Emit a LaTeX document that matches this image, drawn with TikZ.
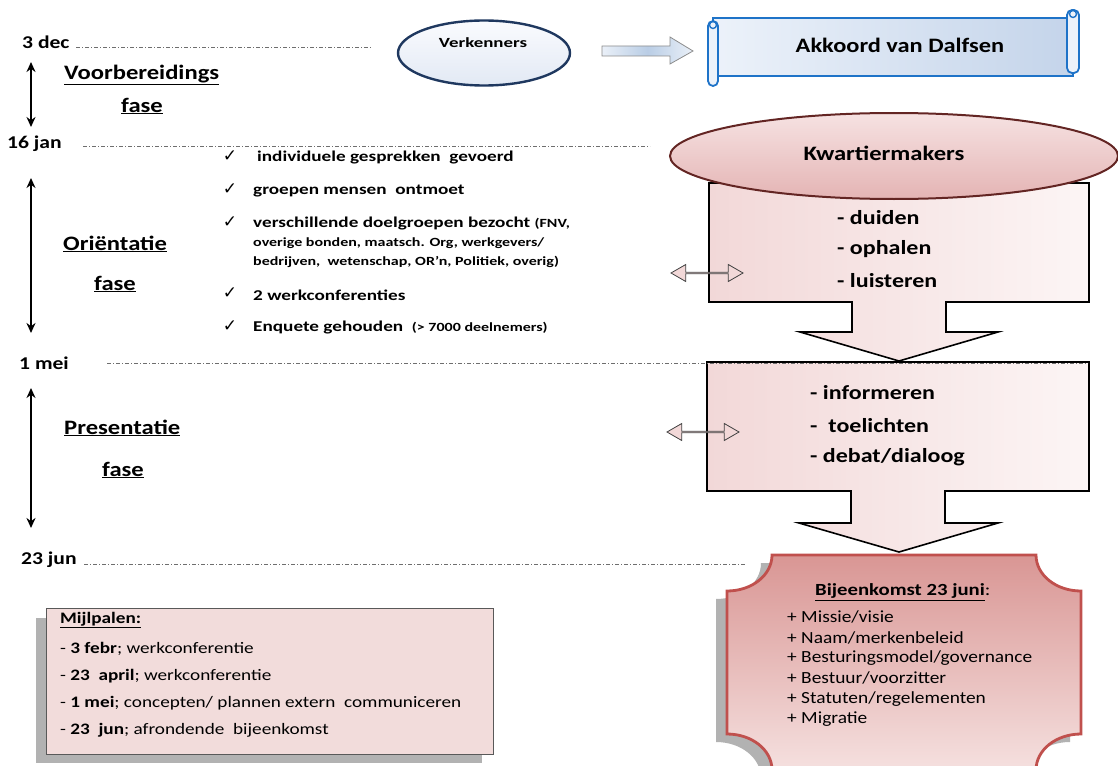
\documentclass[tikz,border=0pt]{standalone}
\usepackage{fontspec}
\setmainfont{Carlito}
\newfontfamily\djv{DejaVu Sans}
\usepackage{graphicx}
\usetikzlibrary{arrows.meta,shapes.geometric,shapes.arrows}
\definecolor{navy}{RGB}{31,56,95}
\definecolor{scrollblue}{RGB}{30,115,200}
\definecolor{scrolllight}{RGB}{236,242,250}
\definecolor{scrolldark}{RGB}{196,212,234}
\definecolor{vktop}{RGB}{250,251,254}
\definecolor{vkbot}{RGB}{226,233,244}
\definecolor{barrowmid}{RGB}{185,205,229}
\definecolor{barrowend}{RGB}{234,240,248}
\definecolor{pinkA}{RGB}{242,216,216}
\definecolor{pinkB}{RGB}{252,245,245}
\definecolor{kwborder}{RGB}{99,37,35}
\definecolor{kwtop}{RGB}{246,226,226}
\definecolor{kwbot}{RGB}{228,180,180}
\definecolor{bjtop}{RGB}{217,150,148}
\definecolor{bjbot}{RGB}{245,224,223}
\definecolor{bjborder}{RGB}{192,80,77}
\definecolor{mijl}{RGB}{242,220,219}
\definecolor{shadowgray}{RGB}{178,178,178}
\definecolor{tlgray}{RGB}{110,110,110}
\newcommand\sx[2][1.2]{\scalebox{#1}[1]{#2}}
\newcommand\fs[1]{\fontsize{#1}{#1}\selectfont}
\begin{document}
\begin{tikzpicture}[x=1pt,y=-1pt,
  datelbl/.style={font=\fs{18}\bfseries, inner sep=0pt, anchor=west},
  phase/.style={font=\fs{20.5}\bfseries, inner sep=0pt},
  tl/.style={draw=tlgray, line width=0.9pt, dash pattern=on 4pt off 2pt on 1pt off 2pt},
  spanarrow/.style={line width=2.4pt, {Stealth[length=10pt,width=9pt]}-{Stealth[length=10pt,width=9pt]}},
  chkm/.style={font=\djv\fs{17}, inner sep=0pt},
  chkitem/.style={font=\fs{15}\bfseries, inner sep=0pt, anchor=west},
  smalltext/.style={font=\fs{12.5}\bfseries, inner sep=0pt, anchor=west},
  verbtext/.style={font=\fs{20}\bfseries, inner sep=0pt, anchor=west},
  twoway/.style={double arrow, draw=black!75, fill=pinkA, line width=0.8pt, minimum height=72pt, minimum width=17pt, double arrow head extend=4.5pt, double arrow tip angle=60, inner sep=0pt},
  blockarrow/.style={draw=black, line width=1.6pt, left color=pinkA, right color=pinkB},
  mtext/.style={font=\fs{16}, inner sep=0pt, anchor=west},
  btext/.style={font=\fs{17}, inner sep=0pt, anchor=west},
]
\useasboundingbox (0,0) rectangle (1118,765);
\clip (0,0) rectangle (1118,765);

% ---------- Mijlpalen box ----------
\fill[shadowgray] (36,618) rectangle (482,763);
\node[draw=black!65, fill=mijl, line width=1pt, minimum width=447pt, minimum height=146pt, inner sep=0pt, anchor=north west] (mp) at (46,608) {};
\node[mtext] (m0) at (60,620) {\sx{\textbf{\underline{Mijlpalen:}}}};
\node[mtext] (m1) at (60,649) {\sx{- \textbf{3 febr}; werkconferentie}};
\node[mtext] (m2) at (60,676) {\sx{- \textbf{23 \ april}; werkconferentie}};
\node[mtext] (m3) at (60,703) {\sx{- \textbf{1 mei}; concepten/ plannen extern \ communiceren}};
\node[mtext] (m4) at (60,730) {\sx{- \textbf{23 \ jun}; afrondende \ bijeenkomst}};

% ---------- timeline ----------
\node[datelbl] (d1) at (22,42) {\sx{3 dec}};
\node[datelbl] (d2) at (7,144) {\sx{16 jan}};
\node[datelbl] (d3) at (19,363) {\sx{1 mei}};
\node[datelbl] (d4) at (21,560) {\sx{23 jun}};
\draw[tl] (76,47) -- (372,47);
\draw[tl] (83,146) -- (650,146);
\draw[tl] (84,564) -- (745,564);

\draw[spanarrow] (31,62) -- (31,127);
\draw[spanarrow] (31,178) -- (31,333);
\draw[spanarrow] (31,388) -- (31,528);

\node[phase, anchor=west] (p1) at (64,75) {\sx{\underline{Voorbereidings}}};
\node[phase] (p1b) at (142,106) {\sx{\underline{fase}}};
\node[phase, anchor=west] (p2) at (63,244) {\sx{\underline{Oriëntatie}}};
\node[phase] (p2b) at (115,284) {\sx{\underline{fase}}};
\node[phase, anchor=west] (p3) at (64,428) {\sx{\underline{Presentatie}}};
\node[phase] (p3b) at (123,470) {\sx{\underline{fase}}};

% ---------- checklist ----------
\node[chkm] (c1) at (230,156) {✓};
\node[chkm] (c2) at (230,189) {✓};
\node[chkm] (c3) at (230,222) {✓};
\node[chkm] (c4) at (230,293) {✓};
\node[chkm] (c5) at (230,326) {✓};
\node[chkitem] (i1) at (257,158) {\sx[1.28]{individuele gesprekken \ gevoerd}};
\node[chkitem] (i2) at (253,191) {\sx[1.28]{groepen mensen \ ontmoet}};
\node[chkitem] (i3) at (253,224) {\sx[1.28]{verschillende doelgroepen bezocht \fs{12.5}(FNV,}};
\node[smalltext] (i3b) at (253,243) {\sx[1.28]{overige bonden, maatsch. Org, werkgevers/}};
\node[smalltext] (i3c) at (253,262) {\sx[1.28]{bedrijven, \ wetenschap, OR’n, Politiek, overig)}};
\node[chkitem] (i4) at (253,295) {\sx[1.28]{2 werkconferenties}};
\node[chkitem] (i5) at (253,328) {\sx[1.28]{Enquete gehouden \ \fs{12.5}(> 7000 deelnemers)}};

% ---------- Verkenners -> Akkoord ----------
\node[ellipse, draw=navy, line width=2.4pt, top color=vktop, bottom color=vkbot, minimum width=172pt, minimum height=65pt, inner sep=0pt] (vk) at (484,53) {};
\node[font=\fs{14}\bfseries, inner sep=0pt] (vkt) at (483,43) {\sx[1.35]{Verkenners}};
\path[draw=black!45, line width=0.8pt, left color=barrowend, right color=barrowend, middle color=barrowmid]
  (602,46) -- (670,46) -- (670,37) -- (693,51) -- (670,64) -- (670,56) -- (602,56) -- cycle;

% scroll
\path[draw=scrollblue, line width=1.8pt, left color=scrolllight, right color=scrolldark] (713,18) rectangle (1073,76);
\draw[draw=scrollblue, line width=1.8pt, fill=scrolllight, rounded corners=5pt] (1067,10) rectangle (1079,73);
\draw[draw=scrollblue, line width=1.8pt, fill=scrolllight, rounded corners=5pt] (708,21) rectangle (718,86);
\draw[draw=scrollblue, line width=1.4pt] (713,25) circle (3.5);
\draw[draw=scrollblue, line width=1.4pt] (1073,14) circle (3.5);
\node[font=\fs{20.5}\bfseries, inner sep=0pt] (ak) at (900,45) {\sx[1.19]{Akkoord van Dalfsen}};

% ---------- pink block arrows ----------
\path[blockarrow] (709,183) -- (1089,183) -- (1089,302) -- (946,302) -- (946,332) -- (998,332) -- (899,361) -- (800,332) -- (852,332) -- (852,302) -- (709,302) -- cycle;
\path[blockarrow] (707,362) -- (1089,362) -- (1089,491) -- (945,491) -- (945,523) -- (998,523) -- (899,552) -- (799,523) -- (851,523) -- (851,491) -- (707,491) -- cycle;
\draw[tl] (107,363) -- (1088,363);

\node[ellipse, draw=kwborder, line width=2pt, top color=kwtop, bottom color=kwbot, minimum width=448pt, minimum height=86pt, inner sep=0pt] (kw) at (894,156) {};
\node[font=\fs{20.5}\bfseries, inner sep=0pt] (kwt) at (884,153) {\sx{Kwartiermakers}};

\node[verbtext] (v1) at (837,218) {\sx{- duiden}};
\node[verbtext] (v2) at (837,249) {\sx{- ophalen}};
\node[verbtext] (v3) at (837,281) {\sx{- luisteren}};
\node[verbtext] (v4) at (810,393) {\sx{- informeren}};
\node[verbtext] (v5) at (810,426) {\sx{- \ toelichten}};
\node[verbtext] (v6) at (810,457) {\sx{- debat/dialoog}};

\node[twoway] (tw1) at (707,273) {};
\node[twoway] (tw2) at (703,432) {};

% ---------- Bijeenkomst plaque ----------
\fill[shadowgray, shift={(-11,8)}]
  (772,555) -- (1036,555) .. controls (1036,575) and (1056,591) .. (1081,591)
  -- (1081,734) .. controls (1056,734) and (1036,750) .. (1036,770)
  -- (772,770) .. controls (772,750) and (752,734) .. (727,734)
  -- (727,591) .. controls (752,591) and (772,575) .. (772,555) -- cycle;
\path[draw=bjborder, line width=2.8pt, top color=bjtop, bottom color=bjbot]
  (772,555) -- (1036,555) .. controls (1036,575) and (1056,591) .. (1081,591)
  -- (1081,734) .. controls (1056,734) and (1036,750) .. (1036,770)
  -- (772,770) .. controls (772,750) and (752,734) .. (727,734)
  -- (727,591) .. controls (752,591) and (772,575) .. (772,555) -- cycle;
\node[font=\fs{17}\bfseries, inner sep=0pt, anchor=west] (bjt) at (815,592) {\sx[1.22]{\underline{Bijeenkomst 23 juni}\textmd{:}}};
\node[btext] (b1) at (787,617) {\sx[1.14]{+ Missie/visie}};
\node[btext] (b2) at (787,638) {\sx[1.14]{+ Naam/merkenbeleid}};
\node[btext] (b3) at (787,658) {\sx[1.14]{+ Besturingsmodel/governance}};
\node[btext] (b4) at (787,678) {\sx[1.14]{+ Bestuur/voorzitter}};
\node[btext] (b5) at (787,699) {\sx[1.14]{+ Statuten/regelementen}};
\node[btext] (b6) at (787,719) {\sx[1.14]{+ Migratie}};
\end{tikzpicture}
\end{document}
